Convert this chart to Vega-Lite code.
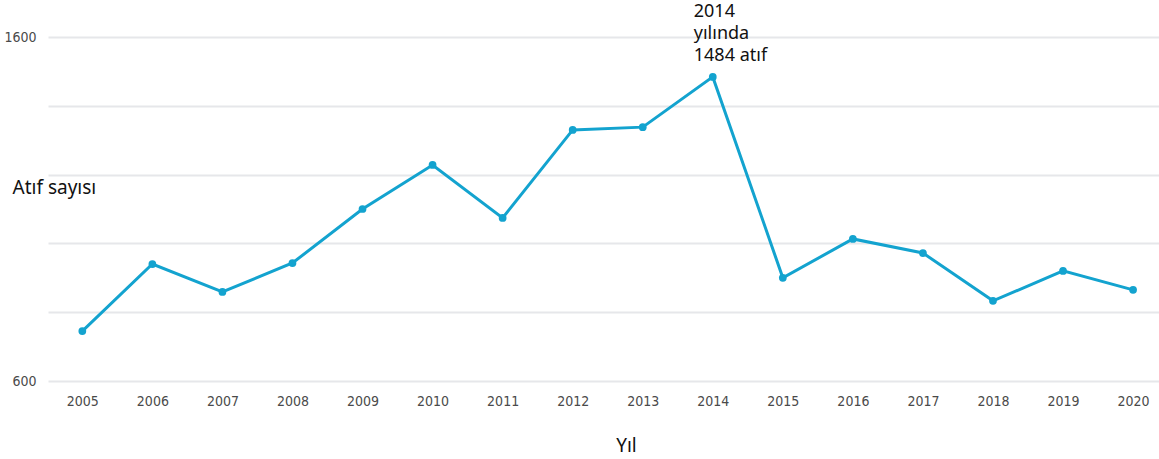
{
  "$schema": "https://vega.github.io/schema/vega-lite/v6.json",
  "autosize": "none",
  "width": 1111,
  "height": 344,
  "padding": {"left": 48, "top": 37, "right": 0, "bottom": 78},
  "background": "#ffffff",
  "config": {"view": {"stroke": null}},
  "data": {
    "values": [
      {"yil": 2005, "atif": 745, "not": ""},
      {"yil": 2006, "atif": 940, "not": ""},
      {"yil": 2007, "atif": 859, "not": ""},
      {"yil": 2008, "atif": 943, "not": ""},
      {"yil": 2009, "atif": 1100, "not": ""},
      {"yil": 2010, "atif": 1228, "not": ""},
      {"yil": 2011, "atif": 1074, "not": ""},
      {"yil": 2012, "atif": 1330, "not": ""},
      {"yil": 2013, "atif": 1338, "not": ""},
      {"yil": 2014, "atif": 1484, "not": "2014\nyılında\n1484 atıf"},
      {"yil": 2015, "atif": 900, "not": ""},
      {"yil": 2016, "atif": 1013, "not": ""},
      {"yil": 2017, "atif": 972, "not": ""},
      {"yil": 2018, "atif": 833, "not": ""},
      {"yil": 2019, "atif": 920, "not": ""},
      {"yil": 2020, "atif": 865, "not": ""}
    ]
  },
  "encoding": {
    "x": {
      "field": "yil",
      "type": "quantitative",
      "scale": {"domain": [2004.51, 2020.37], "nice": false, "zero": false},
      "axis": {
        "values": [2005, 2006, 2007, 2008, 2009, 2010, 2011, 2012, 2013, 2014, 2015, 2016, 2017, 2018, 2019, 2020],
        "format": "d",
        "grid": false,
        "domain": false,
        "ticks": false,
        "labelPadding": 13,
        "labelFont": "Liberation Sans Narrow, DejaVu Sans Condensed, sans-serif",
        "labelFontSize": 14,
        "labelColor": "#4a4a4a",
        "title": "Yıl",
        "titleFont": "Noto Sans",
        "titleFontSize": 19,
        "titleFontWeight": "normal",
        "titleColor": "#111111",
        "titleX": 578,
        "titleY": 64,
        "titleBaseline": "middle",
        "titleAnchor": "middle"
      }
    },
    "y": {
      "field": "atif",
      "type": "quantitative",
      "scale": {"domain": [600, 1600], "nice": false, "zero": false},
      "axis": {
        "values": [600, 800, 1000, 1200, 1400, 1600],
        "labelExpr": "datum.value == 600 || datum.value == 1600 ? datum.label : ''",
        "format": "d",
        "grid": true,
        "gridColor": "#e6e7ea",
        "gridWidth": 2,
        "domain": false,
        "ticks": false,
        "labelPadding": 12,
        "labelFont": "Liberation Sans Narrow, DejaVu Sans Condensed, sans-serif",
        "labelFontSize": 14,
        "labelColor": "#4a4a4a",
        "title": "Atıf sayısı",
        "titleAngle": 0,
        "titleAlign": "left",
        "titleBaseline": "middle",
        "titleX": -36,
        "titleY": 150,
        "titleFont": "Noto Sans",
        "titleFontSize": 19,
        "titleFontWeight": "normal",
        "titleColor": "#111111"
      }
    }
  },
  "layer": [
    {
      "mark": {"type": "line", "color": "#13a3cf", "strokeWidth": 3,
        "point": {"filled": true, "size": 60, "color": "#13a3cf"}}
    },
    {
      "transform": [{"filter": "datum.not != ''"}],
      "mark": {
        "type": "text",
        "align": "left",
        "baseline": "middle",
        "dx": -19,
        "dy": -65,
        "lineBreak": "\n",
        "lineHeight": 22,
        "font": "Noto Sans",
        "fontSize": 18,
        "color": "#111111"
      },
      "encoding": {"text": {"field": "not"}}
    }
  ]
}
